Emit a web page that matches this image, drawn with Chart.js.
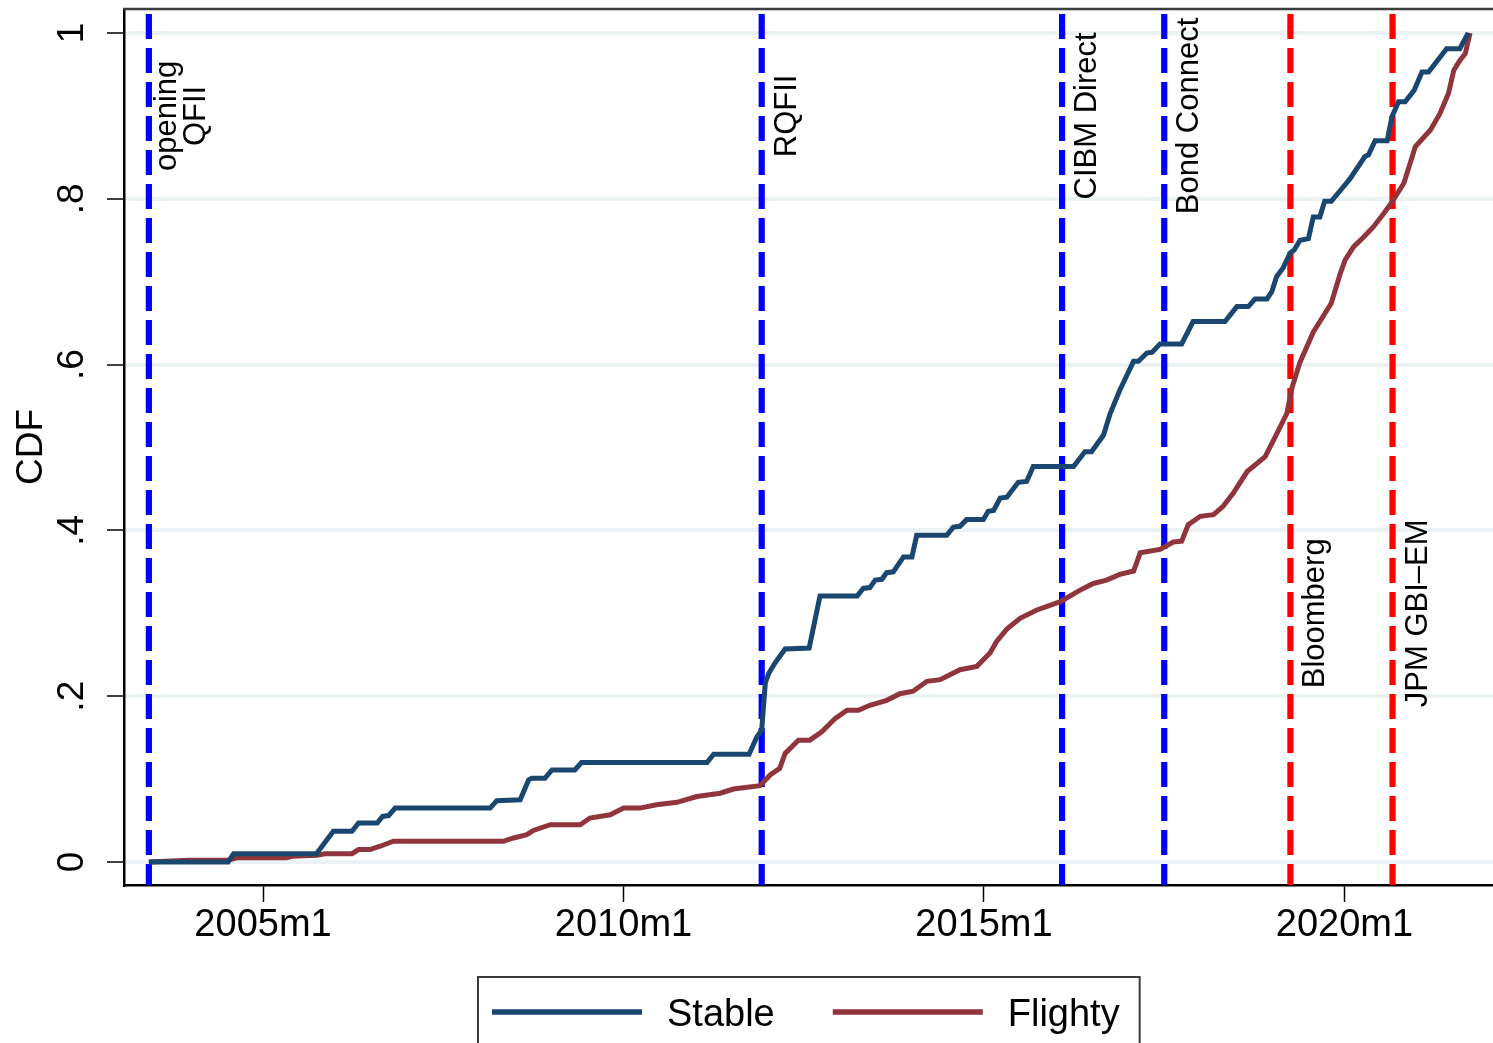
<!DOCTYPE html>
<html>
<head>
<meta charset="utf-8">
<title>CDF of stable and flighty inflows</title>
<script src="https://cdn.jsdelivr.net/npm/chart.js@4.4.1/dist/chart.umd.min.js"></script>
<style>
  html, body { margin: 0; padding: 0; background: #fff; }
  #wrap { width: 1493px; height: 1043px; overflow: hidden; }
</style>
</head>
<body>
<div id="wrap"><canvas id="cdf" width="1493" height="1043"></canvas></div>
<script>
// Months use Stata %tm numbering: 2005m1 = 540, 2010m1 = 600, ...
const tickMonths = [540, 600, 660, 720];
const tickLabels = ['2005m1', '2010m1', '2015m1', '2020m1'];
const yTickValues = [0, 0.2, 0.4, 0.6, 0.8, 1];
const yTickLabels = ['0', '.2', '.4', '.6', '.8', '1'];

// Cumulative distribution, stable investors
const stableMonths = [
  521.0, 534.2, 535.1, 548.9, 551.7, 554.8, 555.9, 559.0, 559.9, 560.9,
  562.0, 577.8, 578.9, 582.8, 584.2, 584.7, 586.9, 588.1, 591.9, 593.0,
  613.9, 615.0, 620.9, 622.2, 623.0, 623.6, 624.2, 625.2, 626.9, 630.9,
  632.7, 638.9, 639.9, 641.0, 641.9, 643.0, 643.8, 644.9, 646.6, 648.0,
  648.8, 653.8, 654.9, 656.0, 657.1, 659.9, 660.7, 661.6, 662.7, 663.8,
  665.7, 667.1, 668.2, 674.9, 676.8, 677.9, 679.9, 681.0, 682.6, 684.9,
  685.7, 687.1, 688.0, 689.3, 692.9, 694.8, 700.1, 702.1, 704.0, 705.1,
  707.1, 707.9, 708.7, 709.8, 711.0, 711.6, 712.6, 714.0, 714.8, 715.9,
  716.7, 717.8, 719.3, 720.9, 723.4, 724.0, 725.1, 727.1, 727.9, 729.0,
  730.1, 731.6, 732.9, 734.0, 737.0, 739.2, 740.6
];
const stableCdf = [
  0.000, 0.000, 0.010, 0.010, 0.037, 0.037, 0.047, 0.047, 0.055, 0.056,
  0.065, 0.065, 0.074, 0.075, 0.099, 0.101, 0.101, 0.111, 0.111, 0.120,
  0.120, 0.130, 0.130, 0.151, 0.159, 0.216, 0.228, 0.240, 0.257, 0.258,
  0.321, 0.321, 0.330, 0.331, 0.340, 0.341, 0.349, 0.350, 0.368, 0.368,
  0.394, 0.394, 0.404, 0.405, 0.413, 0.413, 0.423, 0.424, 0.439, 0.440,
  0.458, 0.459, 0.477, 0.477, 0.495, 0.495, 0.515, 0.541, 0.569, 0.604,
  0.604, 0.614, 0.615, 0.625, 0.625, 0.652, 0.652, 0.670, 0.670, 0.679,
  0.679, 0.688, 0.706, 0.717, 0.735, 0.738, 0.750, 0.752, 0.778, 0.778,
  0.797, 0.797, 0.810, 0.824, 0.851, 0.853, 0.870, 0.870, 0.899, 0.917,
  0.917, 0.931, 0.953, 0.953, 0.981, 0.981, 1.000
];

// Cumulative distribution, flighty investors
const flightyMonths = [
  521.0, 527.6, 534.2, 535.6, 543.9, 545.0, 548.9, 550.3, 554.8, 555.9,
  557.8, 559.5, 561.7, 580.0, 581.7, 583.9, 585.0, 587.8, 592.8, 594.4,
  597.8, 600.0, 602.7, 605.5, 608.9, 612.2, 616.1, 618.3, 622.7, 623.9,
  624.4, 626.0, 626.9, 629.1, 631.0, 633.0, 635.2, 637.2, 639.1, 641.0,
  643.8, 646.0, 648.2, 650.5, 652.7, 656.0, 658.8, 661.0, 662.1, 663.8,
  666.0, 668.8, 672.7, 676.0, 678.2, 680.4, 682.6, 684.9, 686.0, 689.3,
  691.5, 692.9, 694.0, 696.0, 698.2, 699.8, 701.5, 703.8, 706.8, 708.7,
  710.4, 711.3, 712.6, 714.8, 717.8, 719.3, 720.1, 721.5, 723.2, 724.8,
  726.5, 727.9, 729.9, 731.8, 734.3, 735.9, 737.3, 738.2, 739.2, 740.1,
  740.9
];
const flightyCdf = [
  0.000, 0.002, 0.002, 0.005, 0.005, 0.007, 0.008, 0.010, 0.010, 0.015,
  0.015, 0.019, 0.025, 0.025, 0.029, 0.033, 0.038, 0.045, 0.045, 0.053,
  0.057, 0.065, 0.065, 0.069, 0.072, 0.079, 0.083, 0.088, 0.092, 0.101,
  0.105, 0.113, 0.131, 0.147, 0.147, 0.157, 0.173, 0.183, 0.183, 0.189,
  0.195, 0.203, 0.206, 0.218, 0.220, 0.232, 0.236, 0.252, 0.266, 0.281,
  0.294, 0.304, 0.314, 0.328, 0.336, 0.340, 0.347, 0.351, 0.373, 0.377,
  0.386, 0.387, 0.407, 0.417, 0.419, 0.429, 0.445, 0.471, 0.489, 0.516,
  0.541, 0.573, 0.603, 0.639, 0.674, 0.710, 0.726, 0.742, 0.754, 0.766,
  0.782, 0.796, 0.819, 0.863, 0.883, 0.903, 0.927, 0.955, 0.967, 0.975,
  1.000
];

// Market-opening milestones (blue) and index inclusions (red)
const openingMonths = [521, 623, 673, 690];
const openingLabels = [['opening', 'QFII'], ['RQFII'], ['CIBM Direct'], ['Bond Connect']];
const indexMonths = [711, 728];
const indexLabels = [['Bloomberg'], ['JPM GBI\u2013EM']];

const FONT = "'Liberation Sans', Arial, Helvetica, sans-serif";
Chart.defaults.font.family = FONT;
Chart.defaults.color = '#000';

const toPoints = (xs, ys) => xs.map((m, i) => ({ x: m, y: ys[i] }));

// Dashed vertical milestone lines with rotated captions, under the series
const eventLines = {
  id: 'eventLines',
  beforeDatasetsDraw(chart) {
    const { ctx, chartArea: a, scales: { x, y } } = chart;
    const groups = [
      { months: openingMonths, labels: openingLabels, color: '#0000ff', at: 0.9 },
      { months: indexMonths, labels: indexLabels, color: '#ff0000', at: 0.3 }
    ];
    ctx.save();
    groups.forEach(g => {
      g.months.forEach((m, i) => {
        const px = x.getPixelForValue(m);
        ctx.beginPath();
        ctx.setLineDash([25, 9]);
        ctx.lineDashOffset = 29;
        ctx.lineWidth = 6.2;
        ctx.lineCap = 'butt';
        ctx.strokeStyle = g.color;
        ctx.moveTo(px, a.top);
        ctx.lineTo(px, a.bottom);
        ctx.stroke();

        const lines = g.labels[i];
        const py = y.getPixelForValue(g.at);
        ctx.setLineDash([]);
        ctx.fillStyle = '#000';
        ctx.font = '31px ' + FONT;
        ctx.textAlign = 'center';
        ctx.textBaseline = 'alphabetic';
        const first = 34 - 7 * (lines.length - 1);
        lines.forEach((t, k) => {
          ctx.save();
          ctx.translate(px + first + k * 29, py);
          ctx.rotate(-Math.PI / 2);
          ctx.fillText(t, 0, 0);
          ctx.restore();
        });
      });
    });
    ctx.restore();
  }
};

// Upper edge of the plot region
const topFrame = {
  id: 'topFrame',
  afterDraw(chart) {
    const { ctx, chartArea: a } = chart;
    ctx.save();
    ctx.strokeStyle = '#3c3c3c';
    ctx.lineWidth = 2.3;
    ctx.beginPath();
    ctx.moveTo(a.left - 1, a.top);
    ctx.lineTo(a.right, a.top);
    ctx.stroke();
    ctx.restore();
  }
};

// Boxed legend centred under the plot
const legendBox = {
  id: 'legendBox',
  afterDraw(chart) {
    const { ctx, chartArea: a } = chart;
    ctx.save();
    ctx.font = '38px ' + FONT;
    const items = chart.data.datasets.map(ds => ({
      label: ds.label, color: ds.borderColor, w: ctx.measureText(ds.label).width
    }));
    const padL = 14, padR = 20, lineLen = 150, gapText = 25, gapItem = 58;
    let total = padL + padR;
    items.forEach((it, i) => { total += lineLen + gapText + it.w + (i ? gapItem : 0); });
    const left = Math.round((a.left + a.right) / 2 - total / 2);
    const top = a.bottom + 92;
    ctx.strokeStyle = '#3c3c3c';
    ctx.lineWidth = 2;
    ctx.strokeRect(left, top, total, 120);
    const midY = top + 35;
    let cx = left + padL;
    items.forEach((it, i) => {
      if (i) cx += gapItem;
      ctx.strokeStyle = it.color;
      ctx.lineWidth = 5.5;
      ctx.beginPath();
      ctx.moveTo(cx, midY);
      ctx.lineTo(cx + lineLen, midY);
      ctx.stroke();
      cx += lineLen + gapText;
      ctx.fillStyle = '#000';
      ctx.textAlign = 'left';
      ctx.textBaseline = 'alphabetic';
      ctx.fillText(it.label, cx, midY + 14);
      cx += it.w;
    });
    ctx.restore();
  }
};

new Chart(document.getElementById('cdf'), {
  type: 'line',
  data: {
    datasets: [
      {
        label: 'Stable',
        data: toPoints(stableMonths, stableCdf),
        borderColor: '#1a476f',
        borderWidth: 5,
        pointRadius: 0,
        tension: 0,
        fill: false
      },
      {
        label: 'Flighty',
        data: toPoints(flightyMonths, flightyCdf),
        borderColor: '#90353b',
        borderWidth: 5,
        pointRadius: 0,
        tension: 0,
        fill: false
      }
    ]
  },
  options: {
    responsive: false,
    animation: false,
    devicePixelRatio: 1,
    layout: { padding: { top: 9, right: 0, bottom: 0, left: 0 } },
    plugins: { legend: { display: false }, tooltip: { enabled: false } },
    scales: {
      x: {
        type: 'linear',
        min: 516.86,
        max: 744.72,
        afterBuildTicks: s => { s.ticks = tickMonths.map(v => ({ value: v })); },
        afterFit: s => { s.height = 158; s.paddingLeft = 0; s.paddingRight = 0; },
        ticks: {
          callback: (v, i) => tickLabels[i],
          font: { size: 38 },
          color: '#000',
          padding: 1,
          maxRotation: 0,
          autoSkip: false
        },
        grid: { drawOnChartArea: false, drawTicks: true, tickLength: 17, tickColor: '#000', tickWidth: 1.5 },
        border: { display: true, color: '#000', width: 2.5 }
      },
      y: {
        type: 'linear',
        min: -0.027744,
        max: 1.028951,
        afterBuildTicks: s => { s.ticks = yTickValues.map(v => ({ value: v })); },
        afterFit: s => { s.width = 124; s.paddingTop = 0; s.paddingBottom = 0; },
        ticks: {
          callback: (v, i) => yTickLabels[i],
          font: { size: 37 },
          color: '#000',
          padding: 19,
          minRotation: 90,
          maxRotation: 90,
          crossAlign: 'center',
          autoSkip: false
        },
        grid: { color: 'rgb(234,242,243)', lineWidth: 4, tickLength: 17, tickColor: '#000', tickWidth: 1.5 },
        border: { display: true, color: '#000', width: 2.5 },
        title: { display: true, text: 'CDF', font: { size: 37 }, color: '#000', padding: { top: 10, bottom: 0 } }
      }
    }
  },
  plugins: [eventLines, topFrame, legendBox]
});
</script>
</body>
</html>
